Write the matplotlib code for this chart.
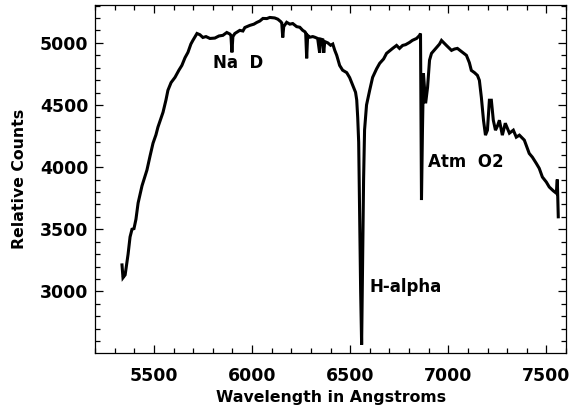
import numpy as np
import matplotlib
matplotlib.use('Agg')
import matplotlib.pyplot as plt
from matplotlib.ticker import MultipleLocator

# spectrum (wavelength in A, relative counts)
wave = [5337, 5342, 5353, 5368, 5378, 5388, 5398, 5408, 5419, 5439,
        5464, 5480, 5495, 5510, 5520, 5546, 5561, 5571, 5587, 5607,
        5627, 5642, 5658, 5673, 5688, 5698, 5719, 5734, 5749, 5765,
        5785, 5810, 5831, 5851, 5871, 5887, 5892, 5897, 5902, 5912,
        5937, 5953, 5963, 5988, 6009, 6024, 6039, 6055, 6075, 6090,
        6115, 6131, 6146, 6151, 6156, 6161, 6176, 6192, 6207, 6227,
        6243, 6258, 6268, 6273, 6278, 6283, 6294, 6309, 6319, 6334,
        6344, 6349, 6360, 6365, 6370, 6385, 6400, 6411, 6421, 6431,
        6446, 6461, 6482, 6497, 6512, 6527, 6533, 6538, 6543, 6548,
        6553, 6558, 6563, 6568, 6573, 6583, 6599, 6614, 6634, 6650,
        6670, 6685, 6716, 6736, 6751, 6767, 6782, 6802, 6817, 6838,
        6853, 6858, 6863, 6868, 6873, 6884, 6894, 6904, 6914, 6940,
        6955, 6965, 6990, 7016, 7031, 7046, 7072, 7092, 7107, 7117,
        7133, 7148, 7158, 7168, 7179, 7189, 7199, 7209, 7219, 7229,
        7240, 7250, 7260, 7275, 7290, 7311, 7331, 7346, 7362, 7387,
        7412, 7428, 7448, 7463, 7479, 7499, 7514, 7534, 7550, 7555,
        7560]
counts = [3213, 3110, 3133, 3300, 3438, 3500, 3505, 3580, 3711, 3850,
          3976, 4090, 4192, 4260, 4321, 4441, 4540, 4618, 4680, 4722,
          4780, 4818, 4880, 4923, 4990, 5019, 5075, 5065, 5043, 5050,
          5035, 5038, 5055, 5060, 5083, 5070, 5060, 4923, 5050, 5075,
          5100, 5095, 5123, 5140, 5150, 5164, 5175, 5196, 5195, 5204,
          5200, 5190, 5170, 5160, 5043, 5130, 5165, 5150, 5155, 5130,
          5125, 5100, 5090, 5080, 4875, 5060, 5045, 5050, 5045, 5035,
          4920, 5030, 5025, 4920, 5010, 5000, 4980, 4990, 4940, 4900,
          4818, 4780, 4760, 4720, 4660, 4602, 4540, 4400, 4200, 3600,
          3000, 2571, 3200, 3900, 4300, 4500, 4618, 4722, 4790, 4835,
          4870, 4915, 4955, 4979, 4955, 4979, 4985, 5003, 5020, 5035,
          5059, 5075, 3735, 4300, 4754, 4513, 4642, 4860, 4915, 4963,
          4990, 5019, 4979, 4939, 4950, 4955, 4923, 4899, 4840, 4778,
          4760, 4738, 4698, 4562, 4377, 4257, 4297, 4538, 4538, 4377,
          4297, 4330, 4377, 4257, 4353, 4273, 4297, 4241, 4257, 4217,
          4110, 4080, 4030, 3990, 3920, 3880, 3840, 3810, 3790, 3900,
          3600]

# line labels
line_names = ['Na  D', 'H-alpha', 'Atm  O2']
line_x = [5800, 6599, 6894]
line_y = [4840, 3037, 4040]

fig = plt.figure(figsize=(5.73, 4.08), dpi=100)
ax = fig.add_axes([0.166, 0.135, 0.822, 0.853])

ax.plot(wave, counts, color='black', lw=2.2, solid_joinstyle='miter')

for name, x, y in zip(line_names, line_x, line_y):
    ax.text(x, y, name, fontsize=12, fontweight='bold', ha='left', va='center')

ax.set_xlim(5200, 7600)
ax.set_ylim(2505, 5305)
ax.xaxis.set_major_locator(MultipleLocator(500))
ax.xaxis.set_minor_locator(MultipleLocator(100))
ax.yaxis.set_major_locator(MultipleLocator(500))
ax.yaxis.set_minor_locator(MultipleLocator(100))

ax.tick_params(which='both', direction='in', top=True, right=True, width=0.9)
ax.tick_params(which='major', length=6)
ax.tick_params(which='minor', length=3.5)
ax.tick_params(axis='x', which='major', pad=10, labelsize=12.5)
ax.tick_params(axis='y', which='major', pad=5, labelsize=12.5)
for lab in ax.get_xticklabels() + ax.get_yticklabels():
    lab.set_fontweight('bold')
for sp in ax.spines.values():
    sp.set_linewidth(0.9)

ax.set_xlabel('Wavelength in Angstroms', fontsize=11.3, fontweight='bold', labelpad=4)
ax.set_ylabel('Relative Counts', fontsize=11.3, fontweight='bold', labelpad=9)

fig.savefig('out.png', dpi=100)
